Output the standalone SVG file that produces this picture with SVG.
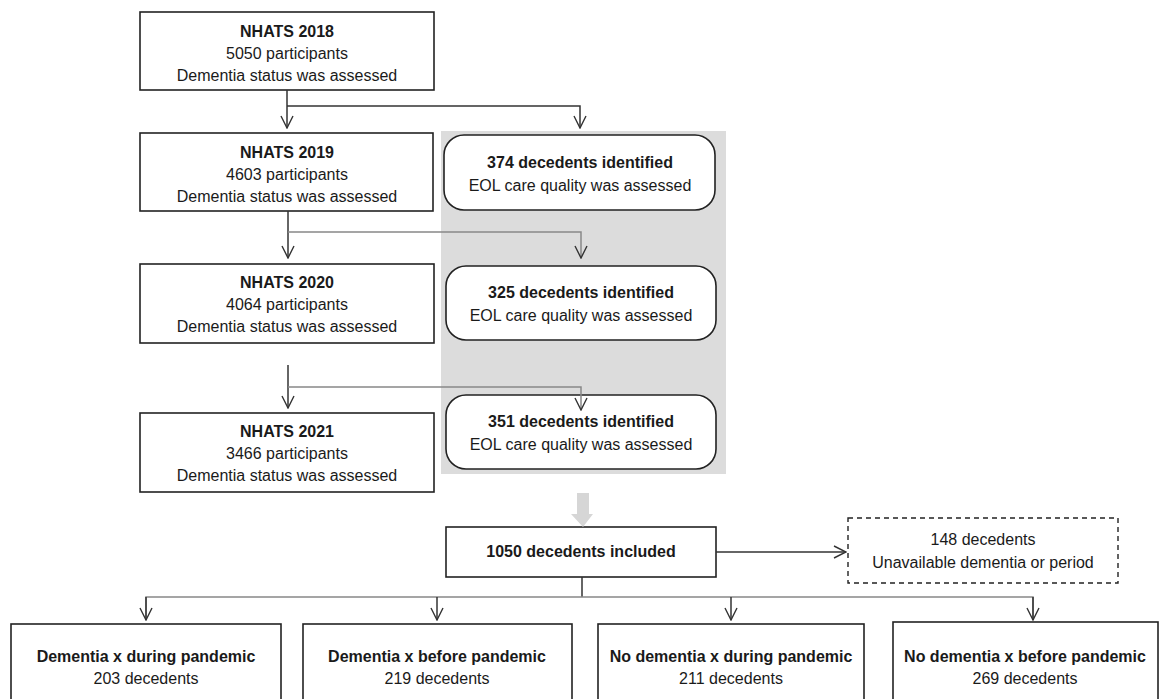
<svg xmlns="http://www.w3.org/2000/svg" width="1160" height="699" viewBox="0 0 1160 699">
<defs>
<style>
.box{fill:#fff;stroke:#222;stroke-width:1.6}
.dash{fill:#fff;stroke:#222;stroke-width:1.4;stroke-dasharray:5 4}
text{font-family:"Liberation Sans",Arial,sans-serif;font-size:16px;fill:#1a1a1a;text-anchor:middle}
.b{font-weight:bold}
.v{stroke:#333;stroke-width:1.5;fill:none}
.h{stroke:#888;stroke-width:1.5;fill:none}
</style>
<marker id="ar" viewBox="0 0 14 14" refX="13" refY="7" markerWidth="14" markerHeight="14" orient="auto" markerUnits="userSpaceOnUse">
<path d="M1,1 L13,7 L1,13" fill="none" stroke="#333" stroke-width="1.4"/>
</marker>
</defs>
<rect x="441" y="131" width="285" height="343" fill="#dcdcdc"/>
<g id="n2018"><rect class="box" x="140" y="12" width="294" height="78"/>
<text class="b" x="287" y="37">NHATS 2018</text><text x="287" y="59">5050 participants</text><text x="287" y="81">Dementia status was assessed</text></g>
<g id="n2019"><rect class="box" x="140" y="133" width="293" height="78"/>
<text class="b" x="287" y="158">NHATS 2019</text><text x="287" y="180">4603 participants</text><text x="287" y="202">Dementia status was assessed</text></g>
<g id="n2020"><rect class="box" x="140" y="264" width="294" height="79"/>
<text class="b" x="287" y="288">NHATS 2020</text><text x="287" y="310">4064 participants</text><text x="287" y="332">Dementia status was assessed</text></g>
<g id="n2021"><rect class="box" x="140" y="413" width="294" height="79"/>
<text class="b" x="287" y="437">NHATS 2021</text><text x="287" y="459">3466 participants</text><text x="287" y="481">Dementia status was assessed</text></g>
<g id="d374"><rect class="box" x="444" y="135" width="271" height="75" rx="20"/>
<text class="b" x="580" y="168">374 decedents identified</text><text x="580" y="191">EOL care quality was assessed</text></g>
<g id="d325"><rect class="box" x="446" y="266" width="270" height="74" rx="20"/>
<text class="b" x="581" y="298">325 decedents identified</text><text x="581" y="321">EOL care quality was assessed</text></g>
<g id="d351"><rect class="box" x="446" y="395" width="270" height="74" rx="20"/>
<text class="b" x="581" y="427">351 decedents identified</text><text x="581" y="450">EOL care quality was assessed</text></g>
<g id="inc"><rect class="box" x="446" y="527" width="270" height="50"/>
<text class="b" x="581" y="557">1050 decedents included</text></g>
<g id="exc"><rect class="dash" x="848" y="518" width="270" height="65"/>
<text x="983" y="545">148 decedents</text><text x="983" y="568">Unavailable dementia or period</text></g>
<g id="g1"><rect class="box" x="11" y="624" width="270" height="90"/>
<text class="b" x="146" y="662">Dementia x during pandemic</text><text x="146" y="684">203 decedents</text></g>
<g id="g2"><rect class="box" x="303" y="624" width="269" height="90"/>
<text class="b" x="437" y="662">Dementia x before pandemic</text><text x="437" y="684">219 decedents</text></g>
<g id="g3"><rect class="box" x="598" y="624" width="266" height="90"/>
<text class="b" x="731" y="662">No dementia x during pandemic</text><text x="731" y="684">211 decedents</text></g>
<g id="g4"><rect class="box" x="893" y="622" width="265" height="90"/>
<text class="b" x="1025" y="662">No dementia x before pandemic</text><text x="1025" y="684">269 decedents</text></g>
<g id="connectors">
<line class="v" x1="287" y1="90" x2="287" y2="128" marker-end="url(#ar)"/>
<polyline class="v" points="287,106 580,106 580,128" marker-end="url(#ar)"/>
<line class="v" x1="288" y1="211" x2="288" y2="258" marker-end="url(#ar)"/>
<polyline class="h" points="288,232 581,232 581,258" marker-end="url(#ar)"/>
<line class="v" x1="288" y1="365" x2="288" y2="408" marker-end="url(#ar)"/>
<polyline class="h" points="288,387 581,387 581,410" marker-end="url(#ar)"/>
<polygon points="577,493 589,493 589,514 593,514 583,527 571,514 577,514" fill="#d6d6d6"/>
<line class="v" x1="716" y1="552" x2="846" y2="552" marker-end="url(#ar)"/>
<line class="v" x1="582" y1="577" x2="582" y2="597"/>
<polyline class="h" points="146,620 146,597 1033,597 1033,620"/>
<line class="v" x1="146" y1="597" x2="146" y2="620" marker-end="url(#ar)"/>
<line class="v" x1="437" y1="597" x2="437" y2="620" marker-end="url(#ar)"/>
<line class="v" x1="731" y1="597" x2="731" y2="620" marker-end="url(#ar)"/>
<line class="v" x1="1033" y1="597" x2="1033" y2="620" marker-end="url(#ar)"/>
</g>
</svg>
